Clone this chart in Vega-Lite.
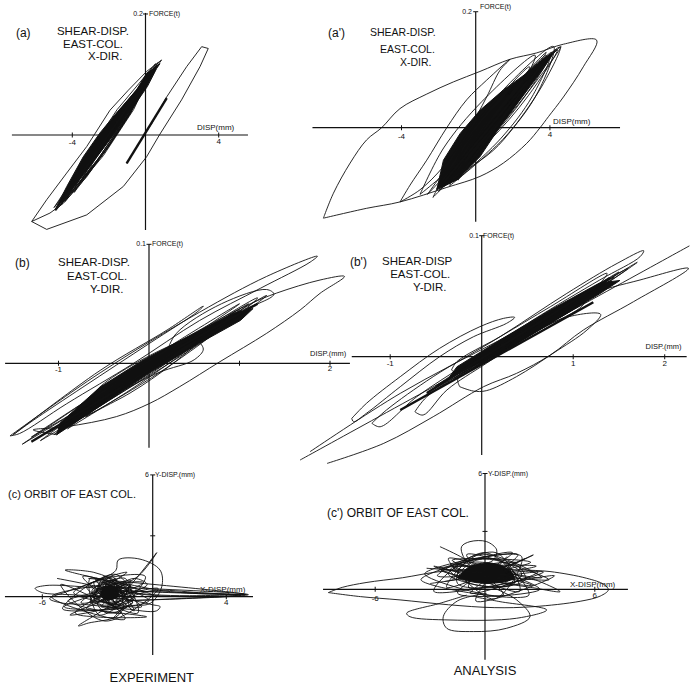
{
"$schema":"https://vega.github.io/schema/vega-lite/v6.json",
"padding":0,
"background":"white",
"config":{"view":{"stroke":null}},
"datasets":{
"a_ax":[{"g":1,"x":-7.3,"y":0},{"g":1,"x":5.6,"y":0},{"g":2,"x":0,"y":0.2017},{"g":2,"x":0,"y":-0.157}],
"a_tk":[{"a":"x","x":-4,"y":0},{"a":"x","x":4,"y":0},{"a":"y","x":0,"y":0.2}],
"a_t":[{"k":"lab","t":"(a)","x":-7.08,"y":0.169},{"k":"tit","t":"SHEAR-DISP.","x":-4.84,"y":0.17},{"k":"tit","t":"EAST-COL.","x":-4.51,"y":0.149},{"k":"tit","t":"X-DIR.","x":-3.14,"y":0.129},{"k":"smr","t":"0.2","x":-0.14,"y":0.2},{"k":"sm","t":"FORCE(t)","x":0.19,"y":0.2},{"k":"ax","t":"DISP(mm)","x":2.81,"y":0.0116},{"k":"num","t":"-4","x":-4,"y":-0.013},{"k":"num","t":"4","x":4,"y":-0.011}],
"a_core":[{"g":1,"x":-4.95,"y":-0.124},{"g":1,"x":-3.9,"y":-0.085},{"g":1,"x":-2.65,"y":-0.036},{"g":1,"x":-1.55,"y":0.008},{"g":1,"x":-0.65,"y":0.047},{"g":1,"x":0.1,"y":0.08},{"g":1,"x":0.61,"y":0.11},{"g":1,"x":0.79,"y":0.118},{"g":1,"x":0.06,"y":0.102},{"g":1,"x":-0.5,"y":0.074},{"g":1,"x":-1.6,"y":0.036},{"g":1,"x":-2.5,"y":0.003},{"g":1,"x":-3.4,"y":-0.036},{"g":1,"x":-4.3,"y":-0.085},{"g":1,"x":-4.95,"y":-0.124}],
"a_k":[{"g":1,"x":-1.03,"y":-0.047},{"g":1,"x":1.16,"y":0.061},{"g":2,"x":-4.6,"y":-0.112},{"g":2,"x":0.45,"y":0.108}],
"a_c":[
{"g":1,"x":-6.22,"y":-0.143},{"g":1,"x":-5.4,"y":-0.156},{"g":1,"x":-3.21,"y":-0.132},{"g":1,"x":-1.21,"y":-0.085},{"g":1,"x":0.06,"y":-0.036},{"g":1,"x":0.76,"y":0},{"g":1,"x":1.97,"y":0.058},{"g":1,"x":2.98,"y":0.113},{"g":1,"x":3.43,"y":0.143},{"g":1,"x":3.07,"y":0.146},{"g":1,"x":2.25,"y":0.113},{"g":1,"x":1.16,"y":0.063},{"g":1,"x":0.34,"y":0.019},{"g":1,"x":-0.3,"y":-0.011},{"g":1,"x":-1.03,"y":-0.047},
{"g":2,"x":-6.22,"y":-0.143},{"g":2,"x":-5.4,"y":-0.107},{"g":2,"x":-4.31,"y":-0.063},{"g":2,"x":-3.21,"y":-0.019},{"g":2,"x":-1.94,"y":0.041},{"g":2,"x":-0.94,"y":0.074},{"g":2,"x":0.06,"y":0.105},{"g":2,"x":0.88,"y":0.124},{"g":2,"x":0.43,"y":0.105},{"g":2,"x":-0.12,"y":0.074},{"g":2,"x":-0.85,"y":0.036},{"g":2,"x":-1.94,"y":-0.014},{"g":2,"x":-3.21,"y":-0.069},{"g":2,"x":-4.49,"y":-0.113},{"g":2,"x":-5.22,"y":-0.129},{"g":2,"x":-6.22,"y":-0.143},
{"g":11,"x":-4.9,"y":-0.125},{"g":11,"x":-2.72,"y":-0.045},{"g":11,"x":-0.88,"y":0.035},{"g":11,"x":0.6,"y":0.115},{"g":11,"x":-1.58,"y":0.035},{"g":11,"x":-3.42,"y":-0.045},{"g":11,"x":-4.9,"y":-0.125},
{"g":12,"x":-4.6,"y":-0.115},{"g":12,"x":-2.6,"y":-0.04},{"g":12,"x":-0.9,"y":0.035},{"g":12,"x":0.5,"y":0.11},{"g":12,"x":-1.5,"y":0.035},{"g":12,"x":-3.2,"y":-0.04},{"g":12,"x":-4.6,"y":-0.115},
{"g":13,"x":-4.3,"y":-0.105},{"g":13,"x":-2.48,"y":-0.035},{"g":13,"x":-0.92,"y":0.035},{"g":13,"x":0.4,"y":0.105},{"g":13,"x":-1.42,"y":0.035},{"g":13,"x":-2.98,"y":-0.035},{"g":13,"x":-4.3,"y":-0.105},
{"g":14,"x":-4.0,"y":-0.095},{"g":14,"x":-2.27,"y":-0.03},{"g":14,"x":-0.83,"y":0.035},{"g":14,"x":0.3,"y":0.1},{"g":14,"x":-1.43,"y":0.035},{"g":14,"x":-2.87,"y":-0.03},{"g":14,"x":-4.0,"y":-0.095},
{"g":15,"x":-3.6,"y":-0.08},{"g":15,"x":-2.08,"y":-0.022},{"g":15,"x":-0.82,"y":0.037},{"g":15,"x":0.2,"y":0.095},{"g":15,"x":-1.32,"y":0.037},{"g":15,"x":-2.58,"y":-0.022},{"g":15,"x":-3.6,"y":-0.08},
{"g":16,"x":-3.3,"y":-0.07},{"g":16,"x":-2.0,"y":-0.018},{"g":16,"x":-0.9,"y":0.033},{"g":16,"x":0.0,"y":0.085},{"g":16,"x":-1.3,"y":0.033},{"g":16,"x":-2.4,"y":-0.018},{"g":16,"x":-3.3,"y":-0.07},
{"g":17,"x":-5.0,"y":-0.12},{"g":17,"x":-2.95,"y":-0.04},{"g":17,"x":-1.05,"y":0.04},{"g":17,"x":0.7,"y":0.12},{"g":17,"x":-1.35,"y":0.04},{"g":17,"x":-3.25,"y":-0.04},{"g":17,"x":-5.0,"y":-0.12},
{"g":18,"x":-4.4,"y":-0.11},{"g":18,"x":-2.3,"y":-0.034},{"g":18,"x":-0.65,"y":0.042},{"g":18,"x":0.55,"y":0.118},{"g":18,"x":-1.55,"y":0.042},{"g":18,"x":-3.2,"y":-0.034},{"g":18,"x":-4.4,"y":-0.11},
{"g":19,"x":-3.9,"y":-0.095},{"g":19,"x":-2.52,"y":-0.04},{"g":19,"x":-1.28,"y":0.015},{"g":19,"x":-0.2,"y":0.07},{"g":19,"x":-1.58,"y":0.015},{"g":19,"x":-2.82,"y":-0.04},{"g":19,"x":-3.9,"y":-0.095},
{"g":20,"x":-4.7,"y":-0.118},{"g":20,"x":-2.83,"y":-0.044},{"g":20,"x":-1.17,"y":0.031},{"g":20,"x":0.3,"y":0.105},{"g":20,"x":-1.57,"y":0.031},{"g":20,"x":-3.23,"y":-0.044},{"g":20,"x":-4.7,"y":-0.118}
],
"ap_ax":[{"g":1,"x":-8.8,"y":0},{"g":1,"x":7.78,"y":0},{"g":2,"x":0,"y":0.1995},{"g":2,"x":0,"y":-0.162}],
"ap_tk":[{"a":"x","x":-4,"y":0},{"a":"x","x":4,"y":0},{"a":"y","x":0,"y":0.2}],
"ap_t":[{"k":"lab","t":"(a')","x":-7.96,"y":0.163},{"k":"tit","t":"SHEAR-DISP.","x":-5.7,"y":0.163},{"k":"tit","t":"EAST-COL.","x":-5.16,"y":0.134},{"k":"tit","t":"X-DIR.","x":-4.08,"y":0.112},{"k":"smr","t":"0.2","x":-0.2,"y":0.2},{"k":"sm","t":"FORCE(t)","x":0.23,"y":0.208},{"k":"ax","t":"DISP(mm)","x":4.17,"y":0.0098},{"k":"num","t":"-4","x":-4,"y":-0.016},{"k":"num","t":"4","x":4,"y":-0.0126}],
"ap_core":[{"g":1,"x":-2.1,"y":-0.107},{"g":1,"x":-1.02,"y":-0.09},{"g":1,"x":0.23,"y":-0.05},{"g":1,"x":1.31,"y":0.002},{"g":1,"x":2.39,"y":0.048},{"g":1,"x":3.47,"y":0.094},{"g":1,"x":4.19,"y":0.128},{"g":1,"x":4.37,"y":0.134},{"g":1,"x":3.83,"y":0.122},{"g":1,"x":2.75,"y":0.094},{"g":1,"x":1.49,"y":0.065},{"g":1,"x":0.23,"y":0.03},{"g":1,"x":-0.84,"y":-0.01},{"g":1,"x":-1.74,"y":-0.056},{"g":1,"x":-2.1,"y":-0.107}],
"ap_k":[{"g":1,"x":-1.0,"y":-0.09},{"g":1,"x":3.8,"y":0.12},{"g":2,"x":-1.74,"y":-0.095},{"g":2,"x":2.8,"y":0.08}],
"ap_c":[
{"g":1,"x":-8.21,"y":-0.156},{"g":1,"x":-7.67,"y":-0.113},{"g":1,"x":-6.77,"y":-0.061},{"g":1,"x":-5.88,"y":-0.021},{"g":1,"x":-5.07,"y":0},{"g":1,"x":-4.08,"y":0.033},{"g":1,"x":-2.64,"y":0.058},{"g":1,"x":-1.2,"y":0.079},{"g":1,"x":0.23,"y":0.097},{"g":1,"x":1.85,"y":0.118},{"g":1,"x":3.29,"y":0.129},{"g":1,"x":4.73,"y":0.144},{"g":1,"x":6.52,"y":0.151},{"g":1,"x":5.8,"y":0.105},{"g":1,"x":4.73,"y":0.053},{"g":1,"x":3.92,"y":0.019},{"g":1,"x":3.47,"y":0},{"g":1,"x":2.75,"y":-0.027},{"g":1,"x":1.49,"y":-0.061},{"g":1,"x":0.23,"y":-0.084},{"g":1,"x":-1.56,"y":-0.103},{"g":1,"x":-4.08,"y":-0.128},{"g":1,"x":-5.88,"y":-0.139},{"g":1,"x":-8.21,"y":-0.156},
{"g":2,"x":-4.08,"y":-0.128},{"g":2,"x":-3.54,"y":-0.099},{"g":2,"x":-2.64,"y":-0.056},{"g":2,"x":-1.56,"y":0},{"g":2,"x":-0.49,"y":0.048},{"g":2,"x":0.59,"y":0.082},{"g":2,"x":1.85,"y":0.118},{"g":2,"x":1.31,"y":0.099},{"g":2,"x":0.59,"y":0.053},{"g":2,"x":-0.49,"y":-0.01},{"g":2,"x":-1.74,"y":-0.067},{"g":2,"x":-3.0,"y":-0.107},{"g":2,"x":-4.08,"y":-0.128},
{"g":3,"x":-1.74,"y":-0.102},{"g":3,"x":-0.84,"y":-0.05},{"g":3,"x":0.59,"y":0.013},{"g":3,"x":2.03,"y":0.071},{"g":3,"x":3.47,"y":0.111},{"g":3,"x":4.55,"y":0.139},{"g":3,"x":3.65,"y":0.076},{"g":3,"x":2.03,"y":0},{"g":3,"x":0.95,"y":-0.039},{"g":3,"x":-0.49,"y":-0.073},{"g":3,"x":-1.74,"y":-0.102},
{"g":11,"x":-2.1,"y":-0.105},{"g":11,"x":0.67,"y":-0.025},{"g":11,"x":2.83,"y":0.055},{"g":11,"x":4.4,"y":0.135},{"g":11,"x":1.63,"y":0.055},{"g":11,"x":-0.53,"y":-0.025},{"g":11,"x":-2.1,"y":-0.105},
{"g":12,"x":-1.8,"y":-0.1},{"g":12,"x":0.67,"y":-0.023},{"g":12,"x":2.63,"y":0.053},{"g":12,"x":4.1,"y":0.13},{"g":12,"x":1.63,"y":0.053},{"g":12,"x":-0.33,"y":-0.023},{"g":12,"x":-1.8,"y":-0.1},
{"g":13,"x":-1.5,"y":-0.09},{"g":13,"x":0.72,"y":-0.018},{"g":13,"x":2.48,"y":0.053},{"g":13,"x":3.8,"y":0.125},{"g":13,"x":1.58,"y":0.053},{"g":13,"x":-0.18,"y":-0.018},{"g":13,"x":-1.5,"y":-0.09},
{"g":14,"x":-2.0,"y":-0.11},{"g":14,"x":0.18,"y":-0.035},{"g":14,"x":2.02,"y":0.04},{"g":14,"x":3.5,"y":0.115},{"g":14,"x":1.32,"y":0.04},{"g":14,"x":-0.52,"y":-0.035},{"g":14,"x":-2.0,"y":-0.11},
{"g":15,"x":-1.2,"y":-0.085},{"g":15,"x":0.7,"y":-0.02},{"g":15,"x":2.2,"y":0.045},{"g":15,"x":3.3,"y":0.11},{"g":15,"x":1.4,"y":0.045},{"g":15,"x":-0.1,"y":-0.02},{"g":15,"x":-1.2,"y":-0.085},
{"g":16,"x":-1.6,"y":-0.095},{"g":16,"x":0.77,"y":-0.017},{"g":16,"x":2.83,"y":0.062},{"g":16,"x":4.6,"y":0.14},{"g":16,"x":2.23,"y":0.062},{"g":16,"x":0.17,"y":-0.017},{"g":16,"x":-1.6,"y":-0.095},
{"g":17,"x":-0.9,"y":-0.075},{"g":17,"x":0.7,"y":-0.017},{"g":17,"x":2.0,"y":0.042},{"g":17,"x":3.0,"y":0.1},{"g":17,"x":1.4,"y":0.042},{"g":17,"x":0.1,"y":-0.017},{"g":17,"x":-0.9,"y":-0.075},
{"g":18,"x":-2.3,"y":-0.12},{"g":18,"x":-0.07,"y":-0.045},{"g":18,"x":1.67,"y":0.03},{"g":18,"x":2.9,"y":0.105},{"g":18,"x":0.67,"y":0.03},{"g":18,"x":-1.07,"y":-0.045},{"g":18,"x":-2.3,"y":-0.12},
{"g":19,"x":-1.0,"y":-0.09},{"g":19,"x":1.37,"y":-0.018},{"g":19,"x":3.03,"y":0.053},{"g":19,"x":4.0,"y":0.125},{"g":19,"x":1.63,"y":0.053},{"g":19,"x":-0.03,"y":-0.018},{"g":19,"x":-1.0,"y":-0.09},
{"g":20,"x":-2.6,"y":-0.115},{"g":20,"x":-0.22,"y":-0.033},{"g":20,"x":1.92,"y":0.048},{"g":20,"x":3.8,"y":0.13},{"g":20,"x":1.42,"y":0.048},{"g":20,"x":-0.72,"y":-0.033},{"g":20,"x":-2.6,"y":-0.115},
{"g":21,"x":-3.0,"y":-0.115},{"g":21,"x":-0.13,"y":-0.035},{"g":21,"x":1.93,"y":0.045},{"g":21,"x":3.2,"y":0.125},{"g":21,"x":0.33,"y":0.045},{"g":21,"x":-1.73,"y":-0.035},{"g":21,"x":-3.0,"y":-0.115},
{"g":22,"x":-1.4,"y":-0.1},{"g":22,"x":1.47,"y":-0.02},{"g":22,"x":3.33,"y":0.06},{"g":22,"x":4.2,"y":0.14},{"g":22,"x":1.33,"y":0.06},{"g":22,"x":-0.53,"y":-0.02},{"g":22,"x":-1.4,"y":-0.1}
],
"b_ax":[{"g":1,"x":-1.59,"y":0},{"g":1,"x":2.22,"y":0},{"g":2,"x":0,"y":0.1},{"g":2,"x":0,"y":-0.071}],
"b_tk":[{"a":"x","x":-1,"y":0},{"a":"x","x":1,"y":0},{"a":"x","x":2,"y":0},{"a":"y","x":0,"y":0.1}],
"b_t":[{"k":"lab","t":"(b)","x":-1.48,"y":0.084},{"k":"tit","t":"SHEAR-DISP.","x":-1.006,"y":0.084},{"k":"tit","t":"EAST-COL.","x":-0.906,"y":0.0725},{"k":"tit","t":"Y-DIR.","x":-0.652,"y":0.0616},{"k":"smr","t":"0.1","x":-0.033,"y":0.1},{"k":"sm","t":"FORCE(t)","x":0.033,"y":0.1},{"k":"ax","t":"DISP.(mm)","x":1.78,"y":0.0078},{"k":"num","t":"-1","x":-1,"y":-0.006},{"k":"num","t":"2","x":2,"y":-0.005}],
"b_core":[{"g":1,"x":-1.02,"y":-0.06},{"g":1,"x":-0.54,"y":-0.036},{"g":1,"x":0.01,"y":-0.008},{"g":1,"x":0.56,"y":0.017},{"g":1,"x":1.01,"y":0.036},{"g":1,"x":1.15,"y":0.046},{"g":1,"x":0.93,"y":0.042},{"g":1,"x":0.42,"y":0.022},{"g":1,"x":-0.06,"y":0.003},{"g":1,"x":-0.54,"y":-0.02},{"g":1,"x":-0.98,"y":-0.05},{"g":1,"x":-1.02,"y":-0.06}],
"b_k":[{"g":1,"x":-1.3,"y":-0.066},{"g":1,"x":-0.3,"y":-0.02},{"g":2,"x":0.3,"y":0.012},{"g":2,"x":1.2,"y":0.05}],
"b_c":[
{"g":1,"x":-1.536,"y":-0.061},{"g":1,"x":-0.54,"y":-0.008},{"g":1,"x":0.56,"y":0.043},{"g":1,"x":1.3,"y":0.073},{"g":1,"x":1.86,"y":0.09},{"g":1,"x":1.78,"y":0.085},{"g":1,"x":1.23,"y":0.063},{"g":1,"x":0.56,"y":0.036},{"g":1,"x":-0.17,"y":0},{"g":1,"x":-0.91,"y":-0.034},{"g":1,"x":-1.43,"y":-0.059},{"g":1,"x":-1.536,"y":-0.061},
{"g":2,"x":-1.5,"y":-0.06},{"g":2,"x":-0.54,"y":-0.006},{"g":2,"x":0.2,"y":0.028},{"g":2,"x":0.6,"y":0.048},{"g":2,"x":0.53,"y":0.043},{"g":2,"x":0.01,"y":0.017},{"g":2,"x":-0.73,"y":-0.02},{"g":2,"x":-1.28,"y":-0.048},{"g":2,"x":-1.5,"y":-0.06},
{"g":3,"x":-1.02,"y":-0.06},{"g":3,"x":-0.17,"y":-0.006},{"g":3,"x":0.56,"y":0.028},{"g":3,"x":1.12,"y":0.05},{"g":3,"x":1.41,"y":0.059},{"g":3,"x":1.89,"y":0.07},{"g":3,"x":2.16,"y":0.073},{"g":3,"x":1.89,"y":0.0588},{"g":3,"x":1.67,"y":0.0448},{"g":3,"x":1.3,"y":0.0252},{"g":3,"x":0.785,"y":0.0014},{"g":3,"x":0.34,"y":-0.0196},{"g":3,"x":0.01,"y":-0.0336},{"g":3,"x":-0.36,"y":-0.0448},{"g":3,"x":-0.91,"y":-0.0532},{"g":3,"x":-1.28,"y":-0.056},{"g":3,"x":-1.02,"y":-0.06},
{"g":11,"x":-1.2,"y":-0.065},{"g":11,"x":-0.29,"y":-0.024},{"g":11,"x":0.55,"y":0.016},{"g":11,"x":1.3,"y":0.057},{"g":11,"x":0.39,"y":0.016},{"g":11,"x":-0.45,"y":-0.024},{"g":11,"x":-1.2,"y":-0.065},
{"g":12,"x":-1.05,"y":-0.06},{"g":12,"x":-0.27,"y":-0.023},{"g":12,"x":0.44,"y":0.013},{"g":12,"x":1.1,"y":0.05},{"g":12,"x":0.32,"y":0.013},{"g":12,"x":-0.39,"y":-0.023},{"g":12,"x":-1.05,"y":-0.06},
{"g":13,"x":-0.9,"y":-0.055},{"g":13,"x":-0.2,"y":-0.022},{"g":13,"x":0.44,"y":0.012},{"g":13,"x":1.0,"y":0.045},{"g":13,"x":0.3,"y":0.012},{"g":13,"x":-0.34,"y":-0.022},{"g":13,"x":-0.9,"y":-0.055},
{"g":14,"x":-1.3,"y":-0.062},{"g":14,"x":-0.52,"y":-0.028},{"g":14,"x":0.22,"y":0.006},{"g":14,"x":0.9,"y":0.04},{"g":14,"x":0.12,"y":0.006},{"g":14,"x":-0.62,"y":-0.028},{"g":14,"x":-1.3,"y":-0.062},
{"g":15,"x":-0.7,"y":-0.045},{"g":15,"x":0.03,"y":-0.012},{"g":15,"x":0.67,"y":0.022},{"g":15,"x":1.2,"y":0.055},{"g":15,"x":0.47,"y":0.022},{"g":15,"x":-0.17,"y":-0.012},{"g":15,"x":-0.7,"y":-0.045},
{"g":16,"x":-1.1,"y":-0.058},{"g":16,"x":-0.44,"y":-0.028},{"g":16,"x":0.16,"y":0.002},{"g":16,"x":0.7,"y":0.032},{"g":16,"x":0.04,"y":0.002},{"g":16,"x":-0.56,"y":-0.028},{"g":16,"x":-1.1,"y":-0.058},
{"g":17,"x":-0.8,"y":-0.048},{"g":17,"x":-0.21,"y":-0.025},{"g":17,"x":0.25,"y":-0.001},{"g":17,"x":0.6,"y":0.022},{"g":17,"x":0.01,"y":-0.001},{"g":17,"x":-0.45,"y":-0.025},{"g":17,"x":-0.8,"y":-0.048},
{"g":18,"x":-1.4,"y":-0.068},{"g":18,"x":-0.56,"y":-0.029},{"g":18,"x":0.24,"y":0.011},{"g":18,"x":1.0,"y":0.05},{"g":18,"x":0.16,"y":0.011},{"g":18,"x":-0.64,"y":-0.029},{"g":18,"x":-1.4,"y":-0.068},
{"g":19,"x":-0.6,"y":-0.035},{"g":19,"x":0.1,"y":-0.008},{"g":19,"x":0.5,"y":0.003},{"g":19,"x":0.6,"y":0.012},{"g":19,"x":0.5,"y":0.02},{"g":19,"x":0.1,"y":0.01},{"g":19,"x":-0.6,"y":-0.025},{"g":19,"x":-0.6,"y":-0.035},
{"g":20,"x":0.2,"y":0.01},{"g":20,"x":0.9,"y":0.04},{"g":20,"x":1.38,"y":0.058},{"g":20,"x":1.3,"y":0.062},{"g":20,"x":0.8,"y":0.05},{"g":20,"x":0.3,"y":0.025},{"g":20,"x":0.2,"y":0.01}
],
"bp_ax":[{"g":1,"x":-1.42,"y":0},{"g":1,"x":2.24,"y":0},{"g":2,"x":0,"y":0.1},{"g":2,"x":0,"y":-0.0812}],
"bp_tk":[{"a":"x","x":-1,"y":0},{"a":"x","x":1,"y":0},{"a":"x","x":2,"y":0},{"a":"y","x":0,"y":0.1}],
"bp_t":[{"k":"lab","t":"(b')","x":-1.44,"y":0.078},{"k":"tit","t":"SHEAR-DISP","x":-1.09,"y":0.078},{"k":"tit","t":"EAST-COL.","x":-1.0,"y":0.0675},{"k":"tit","t":"Y-DIR.","x":-0.75,"y":0.0568},{"k":"smr","t":"0.1","x":-0.03,"y":0.1},{"k":"sm","t":"FORCE(t)","x":0.015,"y":0.1},{"k":"ax","t":"DISP.(mm)","x":1.79,"y":0.008},{"k":"num","t":"-1","x":-1,"y":-0.006},{"k":"num","t":"1","x":1,"y":-0.006},{"k":"num","t":"2","x":2,"y":-0.006}],
"bp_core":[{"g":1,"x":-0.35,"y":-0.0165},{"g":1,"x":0.2,"y":0.0028},{"g":1,"x":0.75,"y":0.0275},{"g":1,"x":1.29,"y":0.052},{"g":1,"x":1.51,"y":0.063},{"g":1,"x":1.29,"y":0.061},{"g":1,"x":0.75,"y":0.0386},{"g":1,"x":0.2,"y":0.0138},{"g":1,"x":-0.27,"y":-0.0083},{"g":1,"x":-0.35,"y":-0.0165}],
"bp_k":[{"g":1,"x":-0.89,"y":-0.044},{"g":1,"x":1.22,"y":0.045},{"g":2,"x":-0.6,"y":-0.03},{"g":2,"x":1.4,"y":0.065}],
"bp_c":[
{"g":1,"x":-1.985,"y":-0.0854},{"g":1,"x":0.1,"y":0.0013},{"g":1,"x":2.27,"y":0.0916},
{"g":2,"x":-1.876,"y":-0.0785},{"g":2,"x":-0.89,"y":-0.0303},{"g":2,"x":0.2,"y":0.0138},{"g":2,"x":1.11,"y":0.0496},{"g":2,"x":1.73,"y":0.0634},{"g":2,"x":2.26,"y":0.073},{"g":2,"x":1.66,"y":0.0455},{"g":2,"x":1.11,"y":0.022},{"g":2,"x":0.75,"y":0.0014},{"g":2,"x":0.38,"y":-0.0138},{"g":2,"x":0.02,"y":-0.0248},{"g":2,"x":-0.53,"y":-0.0496},{"g":2,"x":-1.07,"y":-0.0716},{"g":2,"x":-1.69,"y":-0.0882},
{"g":3,"x":-1.42,"y":-0.051},{"g":3,"x":-1.26,"y":-0.0386},{"g":3,"x":-0.89,"y":-0.0165},{"g":3,"x":-0.46,"y":0.0069},{"g":3,"x":-0.02,"y":0.0248},{"g":3,"x":0.24,"y":0.0317},{"g":3,"x":0.36,"y":0.0325},{"g":3,"x":0.27,"y":0.0275},{"g":3,"x":-0.09,"y":0.0165},{"g":3,"x":-0.46,"y":0},{"g":3,"x":-0.89,"y":-0.0248},{"g":3,"x":-1.26,"y":-0.0468},{"g":3,"x":-1.4,"y":-0.0537},{"g":3,"x":-1.42,"y":-0.051},
{"g":4,"x":-1.2,"y":-0.055},{"g":4,"x":-1.04,"y":-0.044},{"g":4,"x":-0.53,"y":-0.0165},{"g":4,"x":0.2,"y":0.0165},{"g":4,"x":0.93,"y":0.0523},{"g":4,"x":1.48,"y":0.0771},{"g":4,"x":1.77,"y":0.0876},{"g":4,"x":1.73,"y":0.0826},{"g":4,"x":1.29,"y":0.0634},{"g":4,"x":0.56,"y":0.0303},{"g":4,"x":-0.16,"y":-0.0055},{"g":4,"x":-0.71,"y":-0.0331},{"g":4,"x":-1.11,"y":-0.0579},{"g":4,"x":-1.2,"y":-0.055},
{"g":5,"x":-0.73,"y":-0.0455},{"g":5,"x":-0.6,"y":-0.0331},{"g":5,"x":-0.16,"y":-0.011},{"g":5,"x":0.38,"y":0.0138},{"g":5,"x":0.93,"y":0.0358},{"g":5,"x":1.13,"y":0.0455},{"g":5,"x":1.07,"y":0.04},{"g":5,"x":0.56,"y":0.0193},{"g":5,"x":0.05,"y":-0.0055},{"g":5,"x":-0.38,"y":-0.0275},{"g":5,"x":-0.64,"y":-0.0482},{"g":5,"x":-0.73,"y":-0.0455},
{"g":6,"x":-0.33,"y":-0.011},{"g":6,"x":-0.27,"y":-0.004},{"g":6,"x":0.2,"y":0.0165},{"g":6,"x":0.75,"y":0.0413},{"g":6,"x":1.37,"y":0.0689},{"g":6,"x":1.29,"y":0.0606},{"g":6,"x":0.75,"y":0.0331},{"g":6,"x":0.2,"y":0.0083},{"g":6,"x":-0.24,"y":-0.0138},{"g":6,"x":-0.33,"y":-0.011},
{"g":7,"x":-0.24,"y":-0.0248},{"g":7,"x":-0.09,"y":-0.0284},{"g":7,"x":0.05,"y":-0.0281},{"g":7,"x":0.38,"y":-0.0165},{"g":7,"x":0.78,"y":0.0028},{"g":7,"x":1.15,"y":0.022},{"g":7,"x":1.3,"y":0.035},{"g":7,"x":0.9,"y":0.032},{"g":7,"x":0.4,"y":0.012},{"g":7,"x":0.0,"y":-0.005},{"g":7,"x":-0.26,"y":-0.018},{"g":7,"x":-0.24,"y":-0.0248},
{"g":11,"x":-0.5,"y":-0.024},{"g":11,"x":0.26,"y":0.008},{"g":11,"x":0.96,"y":0.041},{"g":11,"x":1.6,"y":0.073},{"g":11,"x":0.84,"y":0.041},{"g":11,"x":0.14,"y":0.008},{"g":11,"x":-0.5,"y":-0.024},
{"g":12,"x":-0.3,"y":-0.018},{"g":12,"x":0.33,"y":0.01},{"g":12,"x":0.92,"y":0.038},{"g":12,"x":1.45,"y":0.066},{"g":12,"x":0.82,"y":0.038},{"g":12,"x":0.23,"y":0.01},{"g":12,"x":-0.3,"y":-0.018},
{"g":13,"x":-0.4,"y":-0.02},{"g":13,"x":0.25,"y":0.007},{"g":13,"x":0.81,"y":0.033},{"g":13,"x":1.3,"y":0.06},{"g":13,"x":0.65,"y":0.033},{"g":13,"x":0.09,"y":0.007},{"g":13,"x":-0.4,"y":-0.02},
{"g":14,"x":-0.1,"y":-0.01},{"g":14,"x":0.47,"y":0.017},{"g":14,"x":1.01,"y":0.043},{"g":14,"x":1.5,"y":0.07},{"g":14,"x":0.93,"y":0.043},{"g":14,"x":0.39,"y":0.017},{"g":14,"x":-0.1,"y":-0.01},
{"g":15,"x":-0.6,"y":-0.03},{"g":15,"x":0.05,"y":-0.002},{"g":15,"x":0.65,"y":0.027},{"g":15,"x":1.2,"y":0.055},{"g":15,"x":0.55,"y":0.027},{"g":15,"x":-0.05,"y":-0.002},{"g":15,"x":-0.6,"y":-0.03},
{"g":16,"x":0.0,"y":-0.006},{"g":16,"x":0.52,"y":0.017},{"g":16,"x":0.97,"y":0.039},{"g":16,"x":1.35,"y":0.062},{"g":16,"x":0.83,"y":0.039},{"g":16,"x":0.38,"y":0.017},{"g":16,"x":0.0,"y":-0.006},
{"g":17,"x":-0.2,"y":-0.015},{"g":17,"x":0.46,"y":0.016},{"g":17,"x":1.1,"y":0.047},{"g":17,"x":1.7,"y":0.078},{"g":17,"x":1.04,"y":0.047},{"g":17,"x":0.4,"y":0.016},{"g":17,"x":-0.2,"y":-0.015}
],
"c_ax":[{"g":1,"x":-8.03,"y":0},{"g":1,"x":5.45,"y":0},{"g":2,"x":0,"y":6.0},{"g":2,"x":0,"y":-2.87}],
"c_tk":[{"a":"x","x":-6,"y":0},{"a":"x","x":4,"y":0},{"a":"y","x":0,"y":6},{"a":"y","x":0,"y":3}],
"c_t":[{"k":"lab","t":"(c) ORBIT OF EAST COL.","x":-7.86,"y":5.01},{"k":"smr","t":"6","x":-0.2,"y":6.0},{"k":"sm","t":"Y-DISP.(mm)","x":0.13,"y":6.0},{"k":"ax","t":"X-DISP(mm)","x":2.57,"y":0.33},{"k":"num","t":"-6","x":-6,"y":-0.3},{"k":"num","t":"4","x":4,"y":-0.3},{"k":"cap","t":"EXPERIMENT","x":-0.05,"y":-4.0}],
"c_core":[{"g":1,"x":-2.8,"y":0.3},{"g":1,"x":-2.4,"y":0.55},{"g":1,"x":-1.9,"y":0.4},{"g":1,"x":-1.9,"y":0.0},{"g":1,"x":-2.4,"y":-0.15},{"g":1,"x":-2.8,"y":0.0},{"g":1,"x":-2.8,"y":0.3}],
"c_c":[
{"g":1,"x":0,"y":0.1},{"g":1,"x":-1.5,"y":0.6},{"g":1,"x":-3.2,"y":1.2},{"g":1,"x":-4.76,"y":1.31},{"g":1,"x":-3.0,"y":0.9},{"g":1,"x":-1.0,"y":0.55},{"g":1,"x":0.5,"y":0.3},{"g":1,"x":2.5,"y":0.15},{"g":1,"x":5.1,"y":0.11},{"g":1,"x":2.0,"y":0.05},{"g":1,"x":0,"y":0.1},{"g":1,"x":-2,"y":0.3},{"g":1,"x":-4,"y":0.5},{"g":1,"x":-5.8,"y":0.55},{"g":1,"x":-6.39,"y":0.41},{"g":1,"x":-6.0,"y":0.2},{"g":1,"x":-4.5,"y":0.1},{"g":1,"x":-2.5,"y":0.0},{"g":1,"x":-1.0,"y":-0.2},{"g":1,"x":0,"y":-0.4},{"g":1,"x":0.4,"y":-0.49},{"g":1,"x":0.2,"y":-0.7},{"g":1,"x":-1.5,"y":-0.6},{"g":1,"x":-3.5,"y":-0.4},{"g":1,"x":-5.0,"y":-0.3},{"g":1,"x":-5.6,"y":-0.1},{"g":1,"x":-4.5,"y":0.3},{"g":1,"x":-3,"y":0.8},{"g":1,"x":-2.0,"y":1.3},{"g":1,"x":-1.87,"y":1.81},{"g":1,"x":-0.69,"y":1.85},{"g":1,"x":0.4,"y":1.31},{"g":1,"x":0.49,"y":0.49},{"g":1,"x":-0.14,"y":-0.33},{"g":1,"x":-1.41,"y":-0.49},{"g":1,"x":-2.0,"y":-1.0},{"g":1,"x":-3.5,"y":-1.3},{"g":1,"x":-4.04,"y":-1.44},{"g":1,"x":-2.0,"y":-0.2},{"g":1,"x":0.22,"y":2.17},{"g":1,"x":-0.8,"y":1.0},{"g":1,"x":-2.5,"y":0.2},{"g":1,"x":-4.2,"y":-0.8},{"g":1,"x":-3.0,"y":-1.0},{"g":1,"x":-0.33,"y":-0.99},{"g":1,"x":-2.8,"y":-0.7},{"g":1,"x":-4.8,"y":-0.5},{"g":1,"x":-3.8,"y":-0.1},{"g":1,"x":-2.2,"y":0.4},{"g":1,"x":-1.0,"y":0.9},{"g":1,"x":-0.3,"y":0.6},{"g":1,"x":-1.5,"y":0.1},{"g":1,"x":-3.0,"y":-0.3},{"g":1,"x":-2.5,"y":-0.8},{"g":1,"x":-1.3,"y":-0.4},{"g":1,"x":-2.3,"y":0.5},{"g":1,"x":-3.3,"y":0.2},{"g":1,"x":-1.8,"y":-0.1},{"g":1,"x":0.0,"y":0.3},{"g":1,"x":2.5,"y":0.2},{"g":1,"x":4.8,"y":0.05},{"g":1,"x":1.5,"y":0.0},{"g":1,"x":-1.2,"y":0.2},{"g":1,"x":-2.7,"y":0.6},{"g":1,"x":-2.0,"y":-0.5},{"g":1,"x":-3.6,"y":-0.6},{"g":1,"x":-2.4,"y":0.1},{"g":1,"x":-1.0,"y":-0.7},{"g":1,"x":-2.6,"y":1.0},{"g":1,"x":-3.2,"y":-0.2},
{"g":2,"x":-3.0,"y":0.5},{"g":2,"x":-1.5,"y":0.9},{"g":2,"x":-1.2,"y":0.1},{"g":2,"x":-2.8,"y":-0.4},{"g":2,"x":-3.3,"y":0.3},{"g":2,"x":-2.0,"y":0.8},{"g":2,"x":-1.1,"y":-0.3},{"g":2,"x":-2.5,"y":-0.5},{"g":2,"x":-3.4,"y":-0.1},{"g":2,"x":-2.2,"y":0.6},{"g":2,"x":-1.3,"y":0.5},{"g":2,"x":-2.0,"y":-0.3},{"g":2,"x":-3.1,"y":0.0},{"g":2,"x":-2.4,"y":0.9},{"g":2,"x":-1.6,"y":-0.1},{"g":2,"x":-2.9,"y":-0.2},{"g":2,"x":-2.6,"y":0.4},{"g":2,"x":-1.4,"y":0.3},{"g":2,"x":-2.2,"y":-0.4},{"g":2,"x":-3.2,"y":0.7},{"g":2,"x":-1.8,"y":0.4},{"g":2,"x":-2.7,"y":0.0},{"g":2,"x":-1.9,"y":-0.5},{"g":2,"x":-1.2,"y":0.7},
{"g":3,"x":-5.2,"y":0.9},{"g":3,"x":-1.0,"y":-0.1},{"g":3,"x":-4.5,"y":-0.9},{"g":3,"x":-0.5,"y":0.7},{"g":3,"x":-5.5,"y":0.0},{"g":3,"x":-1.5,"y":-1.1},{"g":3,"x":-3.8,"y":1.0},{"g":3,"x":-0.2,"y":-0.2},{"g":3,"x":-4.9,"y":-0.6},{"g":3,"x":-2.0,"y":1.1},{"g":3,"x":-0.8,"y":-0.8},{"g":3,"x":-5.0,"y":0.6},{"g":3,"x":-2.6,"y":-1.2},{"g":3,"x":0.3,"y":0.4},{"g":3,"x":-3.9,"y":-0.3},{"g":3,"x":-1.4,"y":1.2},{"g":3,"x":-4.3,"y":0.2},{"g":3,"x":-0.6,"y":-0.5},{"g":3,"x":-3.4,"y":0.9},{"g":3,"x":-2.9,"y":-0.9},{"g":3,"x":-0.9,"y":0.4},{"g":3,"x":-4.6,"y":-0.2},{"g":3,"x":-1.7,"y":-0.8},{"g":3,"x":-3.6,"y":0.5},{"g":3,"x":-0.4,"y":1.0},{"g":3,"x":-2.2,"y":-1.1},
{"g":4,"x":-3.5,"y":0.9},{"g":4,"x":5.0,"y":0.12},{"g":4,"x":-2.0,"y":0.3},{"g":4,"x":4.6,"y":0.08},{"g":4,"x":-1.5,"y":-0.2},{"g":4,"x":5.2,"y":0.1},{"g":4,"x":-3.0,"y":0.5},
{"g":5,"x":-3.3,"y":0.2},{"g":5,"x":-1.2,"y":0.8},{"g":5,"x":-2.8,"y":-0.5},{"g":5,"x":-1.0,"y":0.0},{"g":5,"x":-3.1,"y":0.9},{"g":5,"x":-1.6,"y":-0.6},{"g":5,"x":-2.2,"y":1.0},{"g":5,"x":-3.4,"y":-0.3},{"g":5,"x":-1.3,"y":0.4},{"g":5,"x":-2.6,"y":0.7},{"g":5,"x":-1.8,"y":-0.4},{"g":5,"x":-3.0,"y":0.4},{"g":5,"x":-1.1,"y":-0.3},{"g":5,"x":-2.4,"y":-0.6},{"g":5,"x":-2.0,"y":0.9},{"g":5,"x":-3.2,"y":-0.1},{"g":5,"x":-1.5,"y":0.6},{"g":5,"x":-2.9,"y":0.0},{"g":5,"x":-1.7,"y":0.2},{"g":5,"x":-2.5,"y":-0.2},{"g":5,"x":-2.1,"y":0.5}
],
"cp_ax":[{"g":1,"x":-8.85,"y":0},{"g":1,"x":7.81,"y":0},{"g":2,"x":0,"y":6.03},{"g":2,"x":0,"y":-3.65}],
"cp_tk":[{"a":"x","x":-6,"y":0},{"a":"x","x":6,"y":0},{"a":"y","x":0,"y":6},{"a":"y","x":0,"y":3}],
"cp_t":[{"k":"lab","t":"(c') ORBIT OF EAST COL.","x":-8.63,"y":3.95},{"k":"smr","t":"6","x":-0.16,"y":6.0},{"k":"sm","t":"Y-DISP.(mm)","x":0.16,"y":6.0},{"k":"ax","t":"X-DISP(mm)","x":4.64,"y":0.22},{"k":"num","t":"-6","x":-6,"y":-0.5},{"k":"num","t":"6","x":6,"y":-0.35},{"k":"cap","t":"ANALYSIS","x":0,"y":-4.22}],
"cp_core":[{"g":1,"x":-1.5,"y":0.6},{"g":1,"x":-0.8,"y":1.2},{"g":1,"x":0.4,"y":1.35},{"g":1,"x":1.3,"y":1.0},{"g":1,"x":1.6,"y":0.6},{"g":1,"x":0.8,"y":0.35},{"g":1,"x":-0.5,"y":0.35},{"g":1,"x":-1.5,"y":0.6}],
"cp_c":[
{"g":1,"x":-8.56,"y":-0.17},{"g":1,"x":-7.8,"y":0.1},{"g":1,"x":-6.5,"y":0.35},{"g":1,"x":-4.5,"y":0.6},{"g":1,"x":-2.46,"y":0.92},{"g":1,"x":0,"y":1.05},{"g":1,"x":2.0,"y":1.0},{"g":1,"x":3.55,"y":0.92},{"g":1,"x":5.56,"y":0.57},{"g":1,"x":6.5,"y":0.25},{"g":1,"x":6.74,"y":-0.03},{"g":1,"x":6.3,"y":-0.35},{"g":1,"x":5.2,"y":-0.62},{"g":1,"x":2.64,"y":-0.9},{"g":1,"x":0.5,"y":-0.95},{"g":1,"x":-2.0,"y":-0.8},{"g":1,"x":-4.64,"y":-0.55},{"g":1,"x":-6.8,"y":-0.38},{"g":1,"x":-8.56,"y":-0.17},
{"g":2,"x":-1.0,"y":-0.3},{"g":2,"x":-2.46,"y":-0.725},{"g":2,"x":-4.28,"y":-1.24},{"g":2,"x":-4.1,"y":-1.42},{"g":2,"x":-1.91,"y":-1.59},{"g":2,"x":1.73,"y":-1.5},{"g":2,"x":3.37,"y":-1.07},{"g":2,"x":0.82,"y":-0.64},{"g":2,"x":-0.5,"y":-0.4},
{"g":3,"x":0.09,"y":-0.21},{"g":3,"x":-1.5,"y":-0.6},{"g":3,"x":-2.28,"y":-1.42},{"g":3,"x":-2.09,"y":-2.02},{"g":3,"x":-0.64,"y":-2.19},{"g":3,"x":1.18,"y":-2.02},{"g":3,"x":2.46,"y":-1.42},{"g":3,"x":1.73,"y":-0.55},{"g":3,"x":0.4,"y":0.1},
{"g":4,"x":-0.5,"y":0.9},{"g":4,"x":-1.18,"y":1.69},{"g":4,"x":-1.28,"y":2.21},{"g":4,"x":-0.82,"y":2.47},{"g":4,"x":0.09,"y":2.47},{"g":4,"x":0.64,"y":2.04},{"g":4,"x":0.46,"y":1.52},{"g":4,"x":-0.27,"y":1.17},{"g":4,"x":-0.2,"y":0.5},
{"g":5,"x":-2.46,"y":2.21},{"g":5,"x":-1.18,"y":1.61},{"g":5,"x":-0.6,"y":1.2},
{"g":6,"x":-3.19,"y":1.09},{"g":6,"x":-0.5,"y":1.0},{"g":6,"x":1.5,"y":1.3},{"g":6,"x":2.64,"y":1.78},{"g":6,"x":1.2,"y":1.0},{"g":6,"x":3.0,"y":0.4},{"g":6,"x":4.1,"y":-0.12},{"g":6,"x":2.5,"y":0.1},{"g":6,"x":0.5,"y":0.4},{"g":6,"x":-2.8,"y":1.2},{"g":6,"x":-1.0,"y":0.6},{"g":6,"x":3.2,"y":0.9},{"g":6,"x":1.0,"y":0.2},
{"g":7,"x":-1.8,"y":0.5},{"g":7,"x":-0.5,"y":1.5},{"g":7,"x":1.0,"y":1.4},{"g":7,"x":2.0,"y":0.8},{"g":7,"x":1.3,"y":0.2},{"g":7,"x":-0.8,"y":0.3},{"g":7,"x":-1.9,"y":1.0},{"g":7,"x":0.0,"y":1.6},{"g":7,"x":1.8,"y":1.2},{"g":7,"x":2.2,"y":0.5},{"g":7,"x":0.5,"y":0.1},{"g":7,"x":-1.5,"y":0.3},{"g":7,"x":-1.2,"y":1.3},{"g":7,"x":0.8,"y":1.5},{"g":7,"x":1.6,"y":0.3},{"g":7,"x":-0.3,"y":0.2},{"g":7,"x":-2.0,"y":0.8},{"g":7,"x":-0.7,"y":1.4},{"g":7,"x":1.4,"y":1.0},{"g":7,"x":0.2,"y":0.3},{"g":7,"x":-1.1,"y":0.7},{"g":7,"x":0.7,"y":1.2},{"g":7,"x":1.9,"y":0.6},{"g":7,"x":-0.2,"y":0.6},{"g":7,"x":-1.6,"y":1.2},{"g":7,"x":0.4,"y":0.9},{"g":7,"x":1.2,"y":0.4},{"g":7,"x":-0.9,"y":0.1},{"g":7,"x":0.0,"y":1.2},{"g":7,"x":1.7,"y":1.4},
{"g":8,"x":-3.0,"y":0.3},{"g":8,"x":2.8,"y":1.2},{"g":8,"x":-2.5,"y":1.1},{"g":8,"x":3.5,"y":0.5},{"g":8,"x":-1.0,"y":1.8},{"g":8,"x":1.0,"y":-0.3},{"g":8,"x":-3.3,"y":0.8},{"g":8,"x":2.0,"y":1.7},{"g":8,"x":0.5,"y":-0.5},{"g":8,"x":-2.0,"y":1.6},{"g":8,"x":3.0,"y":0.0},{"g":8,"x":-1.5,"y":-0.2},{"g":8,"x":1.5,"y":1.9},{"g":8,"x":-3.5,"y":0.5},{"g":8,"x":2.4,"y":-0.3},{"g":8,"x":0.0,"y":1.9},{"g":8,"x":-2.8,"y":-0.1},{"g":8,"x":3.8,"y":0.7},{"g":8,"x":-0.5,"y":-0.6},{"g":8,"x":1.2,"y":1.7},
{"g":9,"x":-2.2,"y":0.4},{"g":9,"x":2.5,"y":1.4},{"g":9,"x":-1.8,"y":1.5},{"g":9,"x":2.6,"y":0.2},{"g":9,"x":-2.4,"y":1.0},{"g":9,"x":1.8,"y":1.8},{"g":9,"x":-0.8,"y":-0.2},{"g":9,"x":2.9,"y":0.9},{"g":9,"x":-2.6,"y":0.7},{"g":9,"x":0.6,"y":1.9},{"g":9,"x":1.9,"y":-0.1},{"g":9,"x":-1.9,"y":1.3},{"g":9,"x":3.1,"y":0.6},{"g":9,"x":-0.3,"y":1.8},{"g":9,"x":-2.1,"y":0.1},{"g":9,"x":2.2,"y":1.6}
]
},
"columns":2,
"spacing":0,
"bounds":"flush",
"align":"each",
"concat":[
{"width":300,"height":230,
"encoding":{"x":{"field":"x","type":"quantitative","scale":{"domain":[-7.951,8.443],"nice":false,"zero":false},"axis":null},"y":{"field":"y","type":"quantitative","scale":{"domain":[-0.157,0.2231],"nice":false,"zero":false},"axis":null}},
"layer":[
{"data":{"name":"a_ax"},"mark":{"type":"line","color":"#111","strokeWidth":1.2},"encoding":{"detail":{"field":"g"}}},
{"data":{"name":"a_core"},"transform":[{"window":[{"op":"row_number","as":"o"}]}],"mark":{"type":"line","fill":"#111","stroke":"#111","strokeWidth":1},"encoding":{"detail":{"field":"g"},"order":{"field":"o"}}},
{"data":{"name":"a_c"},"transform":[{"window":[{"op":"row_number","as":"o"}]}],"mark":{"type":"line","color":"#111","strokeWidth":0.9},"encoding":{"detail":{"field":"g"},"order":{"field":"o"}}},
{"data":{"name":"a_k"},"mark":{"type":"line","color":"#111","strokeWidth":2.4},"encoding":{"detail":{"field":"g"}}},
{"data":{"name":"a_tk"},"transform":[{"filter":"datum.a=='x'"}],"mark":{"type":"tick","orient":"vertical","size":5,"thickness":1,"color":"#111","opacity":1}},
{"data":{"name":"a_tk"},"transform":[{"filter":"datum.a=='y'"}],"mark":{"type":"tick","orient":"horizontal","size":5,"thickness":1,"color":"#111","opacity":1}},
{"data":{"name":"a_t"},"transform":[{"filter":"datum.k=='lab'"}],"mark":{"type":"text","align":"left","baseline":"middle","fontSize":12,"font":"Liberation Sans, Arial, sans-serif","color":"#111"},"encoding":{"text":{"field":"t"}}},
{"data":{"name":"a_t"},"transform":[{"filter":"datum.k=='tit'"}],"mark":{"type":"text","align":"left","baseline":"middle","fontSize":11.5,"font":"Liberation Sans, Arial, sans-serif","color":"#111"},"encoding":{"text":{"field":"t"}}},
{"data":{"name":"a_t"},"transform":[{"filter":"datum.k=='sm'"}],"mark":{"type":"text","align":"left","baseline":"middle","fontSize":7,"font":"Liberation Sans, sans-serif","color":"#111"},"encoding":{"text":{"field":"t"}}},
{"data":{"name":"a_t"},"transform":[{"filter":"datum.k=='smr'"}],"mark":{"type":"text","align":"right","baseline":"middle","fontSize":7,"font":"Liberation Sans, sans-serif","color":"#111"},"encoding":{"text":{"field":"t"}}},
{"data":{"name":"a_t"},"transform":[{"filter":"datum.k=='ax'"}],"mark":{"type":"text","align":"left","baseline":"middle","fontSize":8,"font":"Liberation Sans, sans-serif","color":"#111"},"encoding":{"text":{"field":"t"}}},
{"data":{"name":"a_t"},"transform":[{"filter":"datum.k=='num'"}],"mark":{"type":"text","align":"center","baseline":"middle","fontSize":8,"font":"Liberation Sans, sans-serif","color":"#111"},"encoding":{"text":{"field":"t"}}}
]},
{"width":391,"height":230,
"encoding":{"x":{"field":"x","type":"quantitative","scale":{"domain":[-9.472,11.606],"nice":false,"zero":false},"axis":null},"y":{"field":"y","type":"quantitative","scale":{"domain":[-0.1764,0.2202],"nice":false,"zero":false},"axis":null}},
"layer":[
{"data":{"name":"ap_ax"},"mark":{"type":"line","color":"#111","strokeWidth":1.2},"encoding":{"detail":{"field":"g"}}},
{"data":{"name":"ap_core"},"transform":[{"window":[{"op":"row_number","as":"o"}]}],"mark":{"type":"line","fill":"#111","stroke":"#111","strokeWidth":1},"encoding":{"detail":{"field":"g"},"order":{"field":"o"}}},
{"data":{"name":"ap_c"},"transform":[{"window":[{"op":"row_number","as":"o"}]}],"mark":{"type":"line","color":"#111","strokeWidth":0.9,"interpolate":"catmull-rom"},"encoding":{"detail":{"field":"g"},"order":{"field":"o"}}},
{"data":{"name":"ap_k"},"mark":{"type":"line","color":"#111","strokeWidth":2.4},"encoding":{"detail":{"field":"g"}}},
{"data":{"name":"ap_tk"},"transform":[{"filter":"datum.a=='x'"}],"mark":{"type":"tick","orient":"vertical","size":5,"thickness":1,"color":"#111","opacity":1}},
{"data":{"name":"ap_tk"},"transform":[{"filter":"datum.a=='y'"}],"mark":{"type":"tick","orient":"horizontal","size":5,"thickness":1,"color":"#111","opacity":1}},
{"data":{"name":"ap_t"},"transform":[{"filter":"datum.k=='lab'"}],"mark":{"type":"text","align":"left","baseline":"middle","fontSize":12,"font":"Liberation Sans, Arial, sans-serif","color":"#111"},"encoding":{"text":{"field":"t"}}},
{"data":{"name":"ap_t"},"transform":[{"filter":"datum.k=='tit'"}],"mark":{"type":"text","align":"left","baseline":"middle","fontSize":10.5,"font":"Liberation Sans, Arial, sans-serif","color":"#111"},"encoding":{"text":{"field":"t"}}},
{"data":{"name":"ap_t"},"transform":[{"filter":"datum.k=='sm'"}],"mark":{"type":"text","align":"left","baseline":"middle","fontSize":7,"font":"Liberation Sans, sans-serif","color":"#111"},"encoding":{"text":{"field":"t"}}},
{"data":{"name":"ap_t"},"transform":[{"filter":"datum.k=='smr'"}],"mark":{"type":"text","align":"right","baseline":"middle","fontSize":7,"font":"Liberation Sans, sans-serif","color":"#111"},"encoding":{"text":{"field":"t"}}},
{"data":{"name":"ap_t"},"transform":[{"filter":"datum.k=='ax'"}],"mark":{"type":"text","align":"left","baseline":"middle","fontSize":8,"font":"Liberation Sans, sans-serif","color":"#111"},"encoding":{"text":{"field":"t"}}},
{"data":{"name":"ap_t"},"transform":[{"filter":"datum.k=='num'"}],"mark":{"type":"text","align":"center","baseline":"middle","fontSize":8,"font":"Liberation Sans, sans-serif","color":"#111"},"encoding":{"text":{"field":"t"}}}
]},
{"width":300,"height":225,
"encoding":{"x":{"field":"x","type":"quantitative","scale":{"domain":[-1.6464,1.6685],"nice":false,"zero":false},"axis":null},"y":{"field":"y","type":"quantitative","scale":{"domain":[-0.07706,0.11202],"nice":false,"zero":false},"axis":null}},
"layer":[
{"data":{"name":"b_ax"},"mark":{"type":"line","color":"#111","strokeWidth":1.2},"encoding":{"detail":{"field":"g"}}},
{"data":{"name":"b_core"},"transform":[{"window":[{"op":"row_number","as":"o"}]}],"mark":{"type":"line","fill":"#111","stroke":"#111","strokeWidth":1},"encoding":{"detail":{"field":"g"},"order":{"field":"o"}}},
{"data":{"name":"b_c"},"transform":[{"window":[{"op":"row_number","as":"o"}]}],"mark":{"type":"line","color":"#111","strokeWidth":0.9,"interpolate":"catmull-rom"},"encoding":{"detail":{"field":"g"},"order":{"field":"o"}}},
{"data":{"name":"b_k"},"mark":{"type":"line","color":"#111","strokeWidth":2.4},"encoding":{"detail":{"field":"g"}}},
{"data":{"name":"b_tk"},"transform":[{"filter":"datum.a=='x'"}],"mark":{"type":"tick","orient":"vertical","size":5,"thickness":1,"color":"#111","opacity":1}},
{"data":{"name":"b_tk"},"transform":[{"filter":"datum.a=='y'"}],"mark":{"type":"tick","orient":"horizontal","size":5,"thickness":1,"color":"#111","opacity":1}},
{"data":{"name":"b_t"},"transform":[{"filter":"datum.k=='lab'"}],"mark":{"type":"text","align":"left","baseline":"middle","fontSize":12,"font":"Liberation Sans, Arial, sans-serif","color":"#111"},"encoding":{"text":{"field":"t"}}},
{"data":{"name":"b_t"},"transform":[{"filter":"datum.k=='tit'"}],"mark":{"type":"text","align":"left","baseline":"middle","fontSize":11.5,"font":"Liberation Sans, Arial, sans-serif","color":"#111"},"encoding":{"text":{"field":"t"}}},
{"data":{"name":"b_t"},"transform":[{"filter":"datum.k=='sm'"}],"mark":{"type":"text","align":"left","baseline":"middle","fontSize":7,"font":"Liberation Sans, sans-serif","color":"#111"},"encoding":{"text":{"field":"t"}}},
{"data":{"name":"b_t"},"transform":[{"filter":"datum.k=='smr'"}],"mark":{"type":"text","align":"right","baseline":"middle","fontSize":7,"font":"Liberation Sans, sans-serif","color":"#111"},"encoding":{"text":{"field":"t"}}},
{"data":{"name":"b_t"},"transform":[{"filter":"datum.k=='ax'"}],"mark":{"type":"text","align":"left","baseline":"middle","fontSize":7.5,"font":"Liberation Sans, sans-serif","color":"#111"},"encoding":{"text":{"field":"t"}}},
{"data":{"name":"b_t"},"transform":[{"filter":"datum.k=='num'"}],"mark":{"type":"text","align":"center","baseline":"middle","fontSize":8,"font":"Liberation Sans, sans-serif","color":"#111"},"encoding":{"text":{"field":"t"}}}
]},
{"width":391,"height":225,
"encoding":{"x":{"field":"x","type":"quantitative","scale":{"domain":[-1.9858,2.2874],"nice":false,"zero":false},"axis":null},"y":{"field":"y","type":"quantitative","scale":{"domain":[-0.08124,0.10471],"nice":false,"zero":false},"axis":null}},
"layer":[
{"data":{"name":"bp_ax"},"mark":{"type":"line","color":"#111","strokeWidth":1.2},"encoding":{"detail":{"field":"g"}}},
{"data":{"name":"bp_core"},"transform":[{"window":[{"op":"row_number","as":"o"}]}],"mark":{"type":"line","fill":"#111","stroke":"#111","strokeWidth":1},"encoding":{"detail":{"field":"g"},"order":{"field":"o"}}},
{"data":{"name":"bp_c"},"transform":[{"window":[{"op":"row_number","as":"o"}]}],"mark":{"type":"line","color":"#111","strokeWidth":0.9,"interpolate":"catmull-rom"},"encoding":{"detail":{"field":"g"},"order":{"field":"o"}}},
{"data":{"name":"bp_k"},"mark":{"type":"line","color":"#111","strokeWidth":2.4},"encoding":{"detail":{"field":"g"}}},
{"data":{"name":"bp_tk"},"transform":[{"filter":"datum.a=='x'"}],"mark":{"type":"tick","orient":"vertical","size":5,"thickness":1,"color":"#111","opacity":1}},
{"data":{"name":"bp_tk"},"transform":[{"filter":"datum.a=='y'"}],"mark":{"type":"tick","orient":"horizontal","size":5,"thickness":1,"color":"#111","opacity":1}},
{"data":{"name":"bp_t"},"transform":[{"filter":"datum.k=='lab'"}],"mark":{"type":"text","align":"left","baseline":"middle","fontSize":12,"font":"Liberation Sans, Arial, sans-serif","color":"#111"},"encoding":{"text":{"field":"t"}}},
{"data":{"name":"bp_t"},"transform":[{"filter":"datum.k=='tit'"}],"mark":{"type":"text","align":"left","baseline":"middle","fontSize":11.5,"font":"Liberation Sans, Arial, sans-serif","color":"#111"},"encoding":{"text":{"field":"t"}}},
{"data":{"name":"bp_t"},"transform":[{"filter":"datum.k=='sm'"}],"mark":{"type":"text","align":"left","baseline":"middle","fontSize":7,"font":"Liberation Sans, sans-serif","color":"#111"},"encoding":{"text":{"field":"t"}}},
{"data":{"name":"bp_t"},"transform":[{"filter":"datum.k=='smr'"}],"mark":{"type":"text","align":"right","baseline":"middle","fontSize":7,"font":"Liberation Sans, sans-serif","color":"#111"},"encoding":{"text":{"field":"t"}}},
{"data":{"name":"bp_t"},"transform":[{"filter":"datum.k=='ax'"}],"mark":{"type":"text","align":"left","baseline":"middle","fontSize":7.5,"font":"Liberation Sans, sans-serif","color":"#111"},"encoding":{"text":{"field":"t"}}},
{"data":{"name":"bp_t"},"transform":[{"filter":"datum.k=='num'"}],"mark":{"type":"text","align":"center","baseline":"middle","fontSize":8,"font":"Liberation Sans, sans-serif","color":"#111"},"encoding":{"text":{"field":"t"}}}
]},
{"width":300,"height":233,
"encoding":{"x":{"field":"x","type":"quantitative","scale":{"domain":[-8.299,8.005],"nice":false,"zero":false},"axis":null},"y":{"field":"y","type":"quantitative","scale":{"domain":[-4.498,6.98],"nice":false,"zero":false},"axis":null}},
"layer":[
{"data":{"name":"c_ax"},"mark":{"type":"line","color":"#111","strokeWidth":1.2},"encoding":{"detail":{"field":"g"}}},
{"data":{"name":"c_core"},"transform":[{"window":[{"op":"row_number","as":"o"}]}],"mark":{"type":"line","fill":"#111","stroke":"#111","strokeWidth":1,"interpolate":"catmull-rom"},"encoding":{"detail":{"field":"g"},"order":{"field":"o"}}},
{"data":{"name":"c_c"},"transform":[{"window":[{"op":"row_number","as":"o"}]}],"mark":{"type":"line","color":"#111","strokeWidth":0.9,"interpolate":"catmull-rom"},"encoding":{"detail":{"field":"g"},"order":{"field":"o"}}},
{"data":{"name":"c_tk"},"transform":[{"filter":"datum.a=='x'"}],"mark":{"type":"tick","orient":"vertical","size":5,"thickness":1,"color":"#111","opacity":1}},
{"data":{"name":"c_tk"},"transform":[{"filter":"datum.a=='y'"}],"mark":{"type":"tick","orient":"horizontal","size":5,"thickness":1,"color":"#111","opacity":1}},
{"data":{"name":"c_t"},"transform":[{"filter":"datum.k=='lab'"}],"mark":{"type":"text","align":"left","baseline":"middle","fontSize":11,"font":"Liberation Sans, Arial, sans-serif","color":"#111"},"encoding":{"text":{"field":"t"}}},
{"data":{"name":"c_t"},"transform":[{"filter":"datum.k=='sm'"}],"mark":{"type":"text","align":"left","baseline":"middle","fontSize":7,"font":"Liberation Sans, sans-serif","color":"#111"},"encoding":{"text":{"field":"t"}}},
{"data":{"name":"c_t"},"transform":[{"filter":"datum.k=='smr'"}],"mark":{"type":"text","align":"right","baseline":"middle","fontSize":7,"font":"Liberation Sans, sans-serif","color":"#111"},"encoding":{"text":{"field":"t"}}},
{"data":{"name":"c_t"},"transform":[{"filter":"datum.k=='ax'"}],"mark":{"type":"text","align":"left","baseline":"middle","fontSize":8,"font":"Liberation Sans, sans-serif","color":"#111"},"encoding":{"text":{"field":"t"}}},
{"data":{"name":"c_t"},"transform":[{"filter":"datum.k=='num'"}],"mark":{"type":"text","align":"center","baseline":"middle","fontSize":8,"font":"Liberation Sans, sans-serif","color":"#111"},"encoding":{"text":{"field":"t"}}},
{"data":{"name":"c_t"},"transform":[{"filter":"datum.k=='cap'"}],"mark":{"type":"text","align":"center","baseline":"middle","fontSize":13,"font":"Liberation Sans, sans-serif","color":"#111"},"encoding":{"text":{"field":"t"}}}
]},
{"width":391,"height":233,
"encoding":{"x":{"field":"x","type":"quantitative","scale":{"domain":[-10.109,11.257],"nice":false,"zero":false},"axis":null},"y":{"field":"y","type":"quantitative","scale":{"domain":[-5.114,6.959],"nice":false,"zero":false},"axis":null}},
"layer":[
{"data":{"name":"cp_ax"},"mark":{"type":"line","color":"#111","strokeWidth":1.2},"encoding":{"detail":{"field":"g"}}},
{"data":{"name":"cp_core"},"transform":[{"window":[{"op":"row_number","as":"o"}]}],"mark":{"type":"line","fill":"#111","stroke":"#111","strokeWidth":1,"interpolate":"catmull-rom"},"encoding":{"detail":{"field":"g"},"order":{"field":"o"}}},
{"data":{"name":"cp_c"},"transform":[{"window":[{"op":"row_number","as":"o"}]}],"mark":{"type":"line","color":"#111","strokeWidth":0.9,"interpolate":"catmull-rom"},"encoding":{"detail":{"field":"g"},"order":{"field":"o"}}},
{"data":{"name":"cp_tk"},"transform":[{"filter":"datum.a=='x'"}],"mark":{"type":"tick","orient":"vertical","size":5,"thickness":1,"color":"#111","opacity":1}},
{"data":{"name":"cp_tk"},"transform":[{"filter":"datum.a=='y'"}],"mark":{"type":"tick","orient":"horizontal","size":5,"thickness":1,"color":"#111","opacity":1}},
{"data":{"name":"cp_t"},"transform":[{"filter":"datum.k=='lab'"}],"mark":{"type":"text","align":"left","baseline":"middle","fontSize":12,"font":"Liberation Sans, Arial, sans-serif","color":"#111"},"encoding":{"text":{"field":"t"}}},
{"data":{"name":"cp_t"},"transform":[{"filter":"datum.k=='sm'"}],"mark":{"type":"text","align":"left","baseline":"middle","fontSize":7,"font":"Liberation Sans, sans-serif","color":"#111"},"encoding":{"text":{"field":"t"}}},
{"data":{"name":"cp_t"},"transform":[{"filter":"datum.k=='smr'"}],"mark":{"type":"text","align":"right","baseline":"middle","fontSize":7,"font":"Liberation Sans, sans-serif","color":"#111"},"encoding":{"text":{"field":"t"}}},
{"data":{"name":"cp_t"},"transform":[{"filter":"datum.k=='ax'"}],"mark":{"type":"text","align":"left","baseline":"middle","fontSize":8,"font":"Liberation Sans, sans-serif","color":"#111"},"encoding":{"text":{"field":"t"}}},
{"data":{"name":"cp_t"},"transform":[{"filter":"datum.k=='num'"}],"mark":{"type":"text","align":"center","baseline":"middle","fontSize":8,"font":"Liberation Sans, sans-serif","color":"#111"},"encoding":{"text":{"field":"t"}}},
{"data":{"name":"cp_t"},"transform":[{"filter":"datum.k=='cap'"}],"mark":{"type":"text","align":"center","baseline":"middle","fontSize":13,"font":"Liberation Sans, sans-serif","color":"#111"},"encoding":{"text":{"field":"t"}}}
]}
]
}
